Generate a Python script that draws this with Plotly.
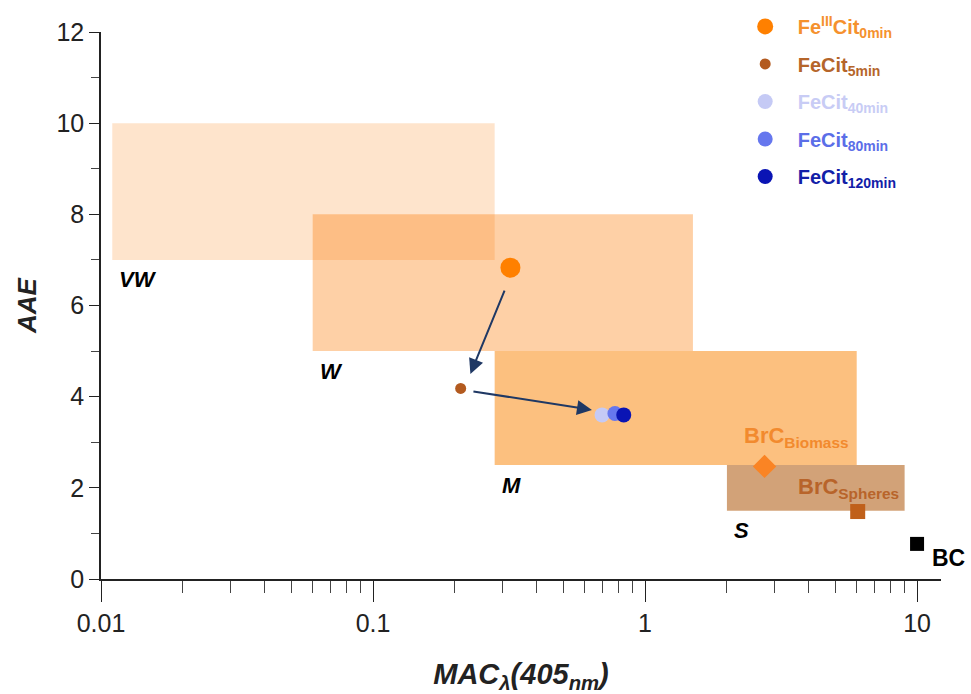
import numpy as np
import plotly.graph_objects as go

# ---- data ----
region_names = ["VW", "W", "M", "S"]
region_x0 = [0.011, 0.06, 0.28, 2.0]
region_x1 = [0.28, 1.5, 6.0, 9.0]
region_y0 = [7.0, 5.0, 2.5, 1.5]
region_y1 = [10.0, 8.0, 5.0, 2.5]
region_colors = ["rgba(252,120,0,0.2)", "rgba(252,120,0,0.35)",
                 "rgba(250,130,0,0.5)", "rgba(180,100,30,0.6)"]

series_names = ["Fe<sup>III</sup>Cit<sub>0min</sub>", "FeCit<sub>5min</sub>",
                "FeCit<sub>40min</sub>", "FeCit<sub>80min</sub>",
                "FeCit<sub>120min</sub>"]
series_mac = [0.32, 0.21, 0.695, 0.775, 0.835]
series_aae = [6.83, 4.18, 3.6, 3.63, 3.6]
series_sizes = [20, 11, 15, 15, 15]
series_colors = ["#FF8000", "#B35A1F", "#C5CAF5", "#6677EE", "#0A14B4"]
series_text_colors = ["#F5912E", "#B5652A", "#C8CCF5", "#5B6EE8", "#1220A8"]

ref_names = ["BrC<sub>Biomass</sub>", "BrC<sub>Spheres</sub>", "BC"]
ref_mac = [2.75, 6.05, 10.0]
ref_aae = [2.47, 1.48, 0.77]
ref_symbols = ["diamond", "square", "square"]
ref_sizes = [18, 15, 14]
ref_colors = ["#FA8424", "#C0601A", "#000000"]
ref_text_colors = ["#F28A2E", "#B8642A", "#000000"]

arrow_from = [(0.306, 6.36), (0.231, 4.12)]
arrow_to = [(0.228, 4.50), (0.638, 3.71)]

x_tickvals = [0.01, 0.1, 1, 10]
x_ticktext = ["0.01", "0.1", "1", "10"]
x_minor = [m * d for d in [0.01, 0.1, 1] for m in range(2, 10)]

FONT = "Liberation Sans, Arial, sans-serif"

fig = go.Figure()

for n, x0, x1, y0, y1, c in zip(region_names, region_x0, region_x1,
                                region_y0, region_y1, region_colors):
    fig.add_trace(go.Scatter(
        x=[x0, x1, x1, x0, x0], y=[y0, y0, y1, y1, y0],
        mode="lines", fill="toself", fillcolor=c,
        line=dict(width=0), showlegend=False, hoverinfo="skip"))

for i, (n, x, y, s, c, tc) in enumerate(zip(series_names, series_mac, series_aae,
                                            series_sizes, series_colors,
                                            series_text_colors)):
    fig.add_trace(go.Scatter(
        x=[x], y=[y], mode="markers",
        marker=dict(size=s, color=c, line=dict(width=0)),
        legendgroup="g%d" % i,
        name="<b><span style='color:%s'>%s</span></b>" % (tc, n)))

for n, x, y, sym, s, c in zip(ref_names, ref_mac, ref_aae,
                              ref_symbols, ref_sizes, ref_colors):
    fig.add_trace(go.Scatter(
        x=[x], y=[y], mode="markers",
        marker=dict(size=s, color=c, symbol=sym, line=dict(width=0)),
        showlegend=False))

annotations = []
# region labels
for n, x0, y0 in zip(region_names, region_x0, region_y0):
    annotations.append(dict(
        x=np.log10(x0), y=y0, xref="x", yref="y", text="<b><i>%s</i></b>" % n,
        showarrow=False, xanchor="left", yanchor="middle", xshift=5, yshift=-20,
        font=dict(family=FONT, size=22, color="black")))

# reference labels
annotations.append(dict(x=np.log10(ref_mac[0]), y=ref_aae[0], xref="x", yref="y",
                        text="<b>" + ref_names[0] + "</b>", showarrow=False,
                        xanchor="center", yanchor="middle", xshift=32, yshift=29,
                        font=dict(family=FONT, size=22, color=ref_text_colors[0])))
annotations.append(dict(x=np.log10(ref_mac[1]), y=ref_aae[1], xref="x", yref="y",
                        text="<b>" + ref_names[1] + "</b>", showarrow=False,
                        xanchor="center", yanchor="middle", xshift=-9, yshift=24,
                        font=dict(family=FONT, size=22, color=ref_text_colors[1])))
annotations.append(dict(x=np.log10(ref_mac[2]), y=ref_aae[2], xref="x", yref="y",
                        text="<b>" + ref_names[2] + "</b>", showarrow=False,
                        xanchor="left", yanchor="middle", xshift=13, yshift=-14,
                        font=dict(family=FONT, size=23, color="black")))

for (fx, fy), (tx, ty) in zip(arrow_from, arrow_to):
    annotations.append(dict(
        x=np.log10(tx), y=ty, ax=np.log10(fx), ay=fy,
        xref="x", yref="y", axref="x", ayref="y", text="",
        showarrow=True, arrowhead=2, arrowsize=1.5, arrowwidth=2,
        arrowcolor="#1F3864"))

fig.update_layout(
    width=971, height=694,
    margin=dict(l=101, r=30, t=32, b=115, autoexpand=False),
    paper_bgcolor="white", plot_bgcolor="white",
    font=dict(family=FONT, size=20, color="#222"),
    showlegend=True,
    legend=dict(x=0.752, y=0.990, xanchor="left", yanchor="top",
                xref="paper", yref="container",
                bgcolor="rgba(0,0,0,0)", font=dict(family=FONT, size=20),
                itemsizing="trace", traceorder="grouped", tracegroupgap=8.5,
                itemwidth=55),
    annotations=annotations,
)

fig.update_xaxes(
    type="log", range=[-2, 1.088], automargin=False,
    tickvals=x_tickvals, ticktext=x_ticktext,
    ticks="outside", ticklen=21, tickwidth=1.3, tickcolor="#222",
    minor=dict(tickvals=x_minor, ticks="outside", ticklen=12, tickwidth=1,
               tickcolor="#444", showgrid=False),
    showline=True, linecolor="#222", linewidth=1.5,
    showgrid=False, zeroline=False,
    tickfont=dict(family=FONT, size=25, color="#222"),
    title=dict(text="<b><i>MAC<sub>λ</sub>(405<sub>nm</sub>)</i></b>",
               font=dict(family=FONT, size=29, color="#222"), standoff=34),
)
fig.update_yaxes(
    range=[0, 12], dtick=2, tick0=0, automargin=False,
    ticks="outside", ticklen=10, tickwidth=1.3, tickcolor="#222",
    minor=dict(dtick=1, ticks="outside", ticklen=8, tickwidth=1,
               tickcolor="#444", showgrid=False),
    showline=True, linecolor="#222", linewidth=1.5,
    showgrid=False, zeroline=False,
    tickfont=dict(family=FONT, size=25, color="#222"),
    title=dict(text="<b><i>AAE</i></b>",
               font=dict(family=FONT, size=26, color="#222"), standoff=12),
)

fig.write_html("out.html")
